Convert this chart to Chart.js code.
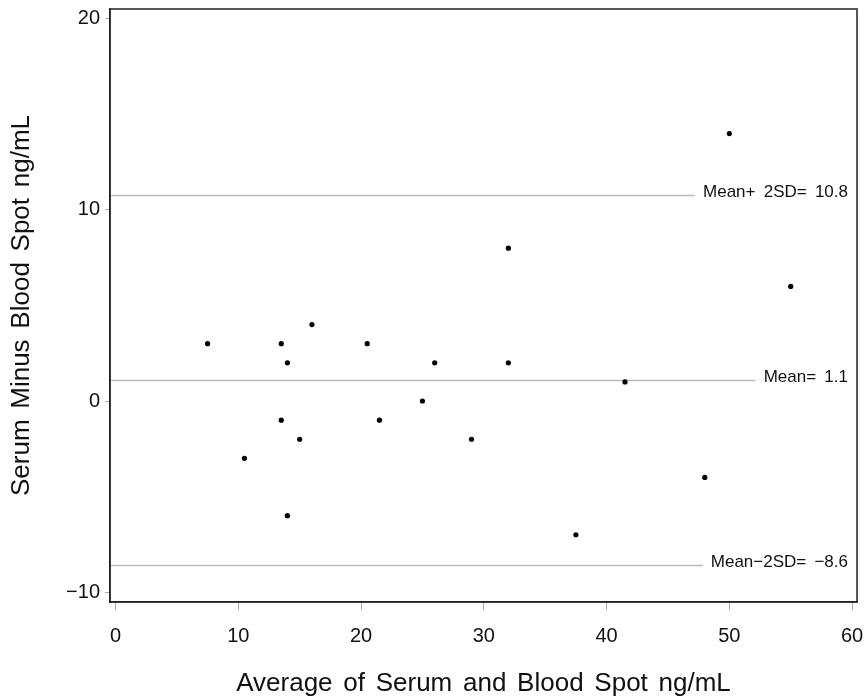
<!DOCTYPE html>
<html><head><meta charset="utf-8">
<script src="https://cdn.jsdelivr.net/npm/chart.js@4.4.1/dist/chart.umd.min.js"></script>
<style>html,body{margin:0;padding:0;background:#fff}#wrap{width:865px;height:699px}</style>
</head><body><div id="wrap"><canvas id="c" width="865" height="699"></canvas></div>
<script>
const avgValues  = [7.5, 10.5, 13.5, 13.5, 14, 14, 15, 16, 20.5, 21.5, 25, 26, 29, 32, 32, 37.5, 41.5, 48, 50, 55];
const diffValues = [3, -3, 3, -1, 2, -6, -2, 4, 3, -1, 0, 2, -2, 8, 2, -7, 1, -4, 14, 6];
const xTickValues = [0, 10, 20, 30, 40, 50, 60];
const yTickValues = [-10, 0, 10, 20];
const refLineValues = [10.8, 1.1, -8.6];
const refLineLabels = ['Mean+ 2SD= 10.8', 'Mean= 1.1', 'Mean\u22122SD= \u22128.6'];
const xTitle = 'Average of Serum and Blood Spot ng/mL';
const yTitle = 'Serum Minus Blood Spot ng/mL';

const FONT = '"Liberation Sans", Arial, Helvetica, sans-serif';
const fmt = v => v < 0 ? '\u2212' + Math.abs(v) : String(v);

const spacingPlugin = {
  id: 'spacing',
  beforeDraw(chart) { chart.ctx.wordSpacing = '3.5px'; }
};
const refLines = {
  id: 'refLines',
  beforeDatasetsDraw(chart) {
    const {ctx, chartArea: {left, right}, scales: {y}} = chart;
    ctx.save();
    ctx.font = '17px ' + FONT;
    ctx.wordSpacing = '3.5px';
    ctx.textAlign = 'right';
    ctx.textBaseline = 'alphabetic';
    ctx.fillStyle = '#111';
    refLineValues.forEach((v, i) => {
      const py = Math.round(y.getPixelForValue(v)) + 0.5;
      const tx = right - 9;
      const w = ctx.measureText(refLineLabels[i]).width;
      ctx.strokeStyle = '#bdbdbd';
      ctx.lineWidth = 1.5;
      ctx.beginPath();
      ctx.moveTo(left, py);
      ctx.lineTo(tx - w - 8, py);
      ctx.stroke();
      ctx.fillText(refLineLabels[i], tx, py + 1);
    });
    ctx.restore();
  }
};
const frame = {
  id: 'frame',
  afterDraw(chart) {
    const {ctx, chartArea: {left, right, top, bottom}} = chart;
    ctx.save();
    ctx.strokeStyle = '#222';
    ctx.lineWidth = 1.5;
    ctx.strokeRect(left, top, right - left, bottom - top);
    ctx.restore();
  }
};

new Chart(document.getElementById('c'), {
  type: 'scatter',
  data: {
    datasets: [{
      data: avgValues.map((x, i) => ({x: x, y: diffValues[i]})),
      backgroundColor: '#000',
      borderColor: '#000',
      borderWidth: 0,
      pointRadius: 2.6,
      showLine: false
    }]
  },
  options: {
    responsive: false,
    animation: false,
    devicePixelRatio: 1,
    layout: {padding: {top: 9, right: 8, left: 0, bottom: 0}},
    plugins: {legend: {display: false}, tooltip: {enabled: false}},
    scales: {
      x: {
        type: 'linear', min: -0.45, max: 60.4,
        afterBuildTicks: s => { s.ticks = xTickValues.map(v => ({value: v})); },
        afterFit: s => { s.height = 97; s.paddingLeft = 0; s.paddingRight = 0; },
        grid: {drawOnChartArea: false, drawTicks: true, tickLength: 8, tickColor: '#aaa', tickWidth: 1},
        border: {display: true, color: '#222', width: 1.5},
        ticks: {font: {family: FONT, size: 20}, color: '#111', padding: 14, maxRotation: 0, autoSkip: false, callback: v => fmt(v)},
        title: {display: true, text: xTitle, font: {family: FONT, size: 26}, color: '#111', padding: {top: 20, bottom: 0}}
      },
      y: {
        type: 'linear', min: -10.52, max: 20.52,
        afterBuildTicks: s => { s.ticks = yTickValues.map(v => ({value: v})); },
        afterFit: s => { s.width = 110; s.paddingTop = 0; s.paddingBottom = 0; },
        grid: {drawOnChartArea: false, drawTicks: true, tickLength: 5, tickColor: '#aaa', tickWidth: 1},
        border: {display: true, color: '#222', width: 1.5},
        ticks: {font: {family: FONT, size: 20}, color: '#111', padding: 5, autoSkip: false, callback: v => fmt(v)},
        title: {display: true, text: yTitle, font: {family: FONT, size: 26}, color: '#111', padding: {top: 6, bottom: 0}}
      }
    }
  },
  plugins: [spacingPlugin, refLines, frame]
});
</script>
</body></html>
